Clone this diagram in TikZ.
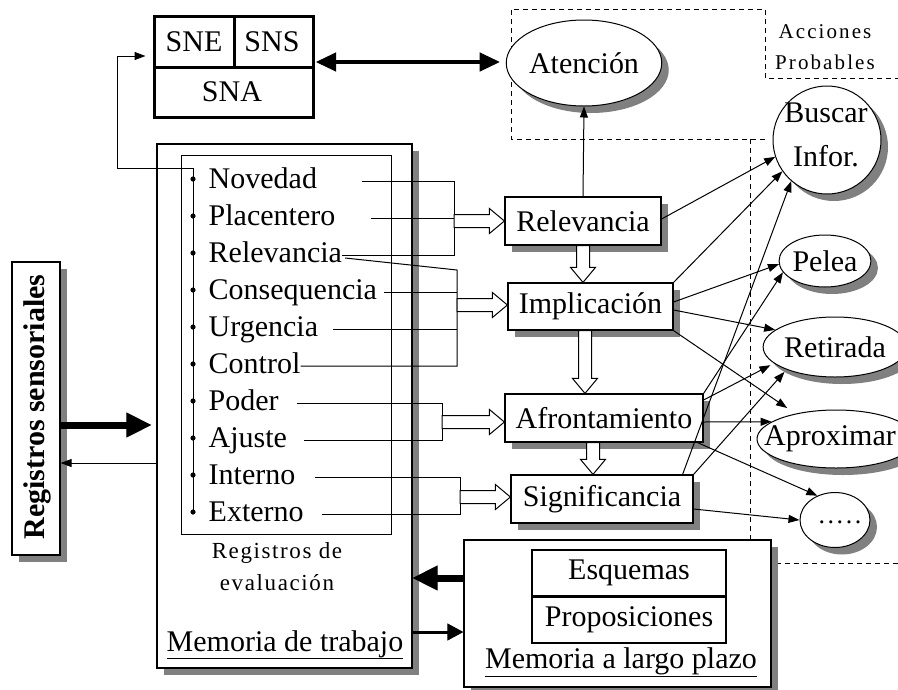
\documentclass[tikz,border=0pt]{standalone}
\usepackage{fontspec}
\setmainfont{Liberation Serif}
\newfontfamily\spacedserif[LetterSpace=10]{Liberation Serif}
\newfontfamily\captionserif[LetterSpace=7]{Liberation Serif}
\usetikzlibrary{arrows.meta,shapes.geometric,shadows,calc}

\tikzset{
  every node/.style={font=\fontsize{30}{36}\selectfont, inner sep=0pt},
  shadowed/.style={drop shadow={shadow xshift=7pt, shadow yshift=-7pt, fill=black!50, opacity=1}},
  box/.style={draw, line width=1.2pt, fill=white, rectangle},
  oval/.style={draw, line width=1pt, fill=white, ellipse, shadowed},
  dashpat/.style={dash pattern=on 5pt off 4pt, line width=1pt},
  wire/.style={line width=1pt},
  conn/.style={line width=1pt, -{Triangle[length=11pt,width=8pt]}},
  heavy/.style={line width=7pt, -{Triangle[length=25pt,width=25pt,line width=1pt]}},
  medium/.style={line width=3pt, -{Triangle[length=16pt,width=17pt,line width=1pt]}},
  dbl/.style={line width=4.5pt, {Triangle[length=20pt,width=19pt,line width=1pt]}-{Triangle[length=20pt,width=19pt,line width=1pt]}},
  hollow/.style={draw, fill=white, line width=1pt,
    to path={
      let \p1=(\tikztostart), \p2=(\tikztotarget),
          \n1={atan2(\y2-\y1,\x2-\x1)},
          \n2={veclen(\x2-\x1,\y2-\y1)}
      in [shift={(\p1)}, rotate=\n1]
         (0pt,-6.5pt) -- (\n2*1pt-15pt,-6.5pt) -- (\n2*1pt-15pt,-12.5pt) -- (\n2*1pt,0pt)
         -- (\n2*1pt-15pt,12.5pt) -- (\n2*1pt-15pt,6.5pt) -- (0pt,6.5pt) -- cycle
    }},
}

\begin{document}
\begin{tikzpicture}[x=1pt,y=-1pt]
\useasboundingbox (0,0) rectangle (898,689);

% region of probable actions (dashed)
\draw[dashpat] (765,139) -- (511,139) -- (511,9) -- (765,9) -- (765,78) -- (898,78);
\draw[dashpat] (750,139) -- (750,563) -- (898,563);
\node[font=\spacedserif\fontsize{21}{25}\selectfont] (acc1) at (825,32) {Acciones};
\node[font=\spacedserif\fontsize{21}{25}\selectfont] (acc2) at (825,62) {Probables};

% nervous systems
\node[draw, line width=3pt, fill=white, minimum width=159pt, minimum height=101pt] (sys) at (233.5,66.5) {};
\draw[line width=3pt] (154,67) -- (313,67);
\draw[line width=3pt] (234,16) -- (234,67);
\node (sne) at (194,42) {SNE};
\node (sns) at (272,42) {SNS};
\node (sna) at (232,92) {SNA};

% sensory registers
\node[box, shadowed, minimum width=48pt, minimum height=293pt] (rs) at (36,408.5) {};
\node[rotate=90, font=\bfseries\fontsize{30}{36}\selectfont] (rst) at (37,407) {Registros sensoriales};

% working memory
\node[box, shadowed, minimum width=255pt, minimum height=524pt] (wm) at (284.5,406) {};
\node[draw, line width=1pt, minimum width=210pt, minimum height=379pt] (ev) at (286,344.5) {};
\draw[wire] (193,168) coordinate (btop) -- (193,514);
\foreach \n/\t [count=\i from 0] in {nov/Novedad, pla/Placentero, rlv/Relevancia,
    con/Consequencia, urg/Urgencia, ctl/Control, pod/Poder, aju/Ajuste,
    int/Interno, ext/Externo}{
  \node[anchor=base west] (\n) at (208.5,188+37*\i) {\t};
  \fill (193,179+37*\i) circle (2.6pt);
}
\node[font=\captionserif\fontsize{23}{28}\selectfont] (re1) at (277,553) {Registros de};
\node[font=\captionserif\fontsize{23}{28}\selectfont] (re2) at (277,583) {evaluación};
\node[anchor=base] (wmt) at (285,651) {Memoria de trabajo};
\draw[wire] ([yshift=-7pt]wmt.base west) -- ([yshift=-7pt]wmt.base east);

% long-term memory
\node[box, shadowed, minimum width=307pt, minimum height=147pt] (ltm) at (617.5,613.5) {};
\node[draw, line width=1.2pt, minimum width=194pt, minimum height=46pt] (esq) at (629,573) {Esquemas};
\node[draw, line width=1.2pt, minimum width=194pt, minimum height=47pt] (pro) at (629,619.5) {Proposiciones};
\draw[line width=2.5pt] (esq.south west) -- (esq.south east);
\node[anchor=base] (ltmt) at (621,668) {Memoria a largo plazo};
\draw[wire] ([yshift=-8pt]ltmt.base west) -- ([yshift=-8pt]ltmt.base east);

% appraisal stages
\node[box, shadowed, minimum width=156pt, minimum height=48pt] (rel) at (583,221) {Relevancia};
\node[box, shadowed, minimum width=165pt, minimum height=47pt] (imp) at (590.5,306.5) {Implicación};
\node[box, shadowed, minimum width=198pt, minimum height=48pt] (afr) at (604,418) {Afrontamiento};
\node[box, shadowed, minimum width=182pt, minimum height=48pt] (sig) at (602,499) {Significancia};

% outcomes
\node[oval, minimum width=136pt, minimum height=86pt] (atn) at (584,63) {Atención};
\node[draw, line width=1pt, fill=white, circle, shadowed, minimum size=108pt] (bus) at (827,140) {};
\node[align=center, font=\fontsize{30}{44}\selectfont] (bust) at (826,135) {Buscar\\Infor.};
\node[oval, minimum width=84pt, minimum height=52pt] (pel) at (825,261) {Pelea};
\node[oval, minimum width=120pt, minimum height=60pt] (ret) at (835,347) {Retirada};
\node[oval, minimum width=158pt, minimum height=58pt] (apr) at (836,439) {};
\node (aprt) at (830,439) {Aproximar};
\node[oval, minimum width=70pt, minimum height=55pt] (dot) at (835,520) {};
\node[font=\spacedserif\fontsize{26}{30}\selectfont] (dott) at (840,522) {.....};

% criteria grouped into the four checks
\coordinate (g1) at (454,221);
\foreach \n in {nov,pla,rlv,con,urg,ctl,pod,aju,int,ext}
  \coordinate (\n-r) at ([yshift=7pt]\n.base east);
\draw[wire] ([xshift=45pt]nov-r) -- (nov-r -| g1) -- (rlv-r -| g1) -- (rlv-r);
\draw[wire] ([xshift=35pt]pla-r) -- (pla-r -| g1);
\coordinate (g2top) at (457,270);
\coordinate (g2) at (457,305);
\draw[wire] ([xshift=3pt,yshift=-3pt]rlv-r) -- (g2top) -- (ctl-r -| g2top) -- (ctl-r);
\draw[wire] ([xshift=7pt]con-r) -- (con-r -| g2top);
\draw[wire] ([xshift=15pt]urg-r) -- (urg-r -| g2top);
\coordinate (g3) at (442,422);
\draw[wire] ([xshift=18pt]pod-r) -- (pod-r -| g3) -- (aju-r -| g3) -- ([xshift=17pt]aju-r);
\coordinate (g4) at (460,497);
\draw[wire] ([xshift=19pt]int-r) -- (int-r -| g4) -- (ext-r -| g4) -- ([xshift=18pt]ext-r);

% hollow block arrows
\draw[hollow] (g1) to (g1 -| rel.west);
\draw[hollow] (g2) to (g2 -| imp.west);
\draw[hollow] (g3) to (g3 -| afr.west);
\draw[hollow] (g4) to (g4 -| sig.west);
\coordinate (v1) at (rel.south);
\coordinate (v2) at ([xshift=-5.5pt]imp.south);
\coordinate (v3) at ([xshift=-11pt]afr.south);
\draw[hollow] (v1) to (v1 |- imp.north);
\draw[hollow] (v2) to (v2 |- afr.north);
\draw[hollow] (v3) to (v3 |- sig.north);

% thin connectors
\draw[conn] (btop) -- ++(-76,0) |- ([xshift=-7pt,yshift=10.5pt]sys.west);
\draw[conn] (rel.north) -- (atn.south);
\draw[conn] ([yshift=2pt]rel.east) -- (bus.198);
\draw[conn] (imp.north east) -- (bus.215);
\draw[conn] ([xshift=-11pt]sig.north east) -- (bus.229);
\draw[conn] ([yshift=4.5pt]imp.east) -- (pel.184);
\draw[conn] ([yshift=-3.5pt]imp.east) -- (ret.164);
\draw[conn, shorten >=10pt] (imp.south east) -- (apr.148);
\draw[conn] (afr.north east) -- (pel.195);
\draw[conn, shorten >=4pt] ([yshift=18pt]afr.east) -- (ret.195);
\draw[conn] ([yshift=-4pt]afr.east) -- (apr.165);
\draw[conn] ([xshift=-6pt]afr.south east) -- (dot.126);
\draw[conn, shorten >=3pt] (sig.north east) -- (ret.205);
\draw[conn] ([yshift=-10pt]sig.east) -- (dot.180);

% heavy connectors
\coordinate (s1) at ([yshift=4.5pt]sys.east);
\draw[dbl, shorten <=1.5pt, shorten >=6pt] (s1) -- (s1 -| atn.west);
\coordinate (h1) at ([yshift=-16.5pt]rs.east);
\draw[heavy, shorten >=5pt] (h1) -- (h1 -| wm.west);
\coordinate (h2) at ([yshift=-57pt]wm.west);
\draw[conn] (h2) -- (h2 -| rs.east);
\coordinate (h3) at ([yshift=35.5pt]ltm.west);
\draw[heavy] (h3) -- (h3 -| wm.east);
\coordinate (h4) at ([yshift=-18.5pt]ltm.west);
\draw[medium] (h4 -| wm.east) -- (h4);
\end{tikzpicture}
\end{document}
